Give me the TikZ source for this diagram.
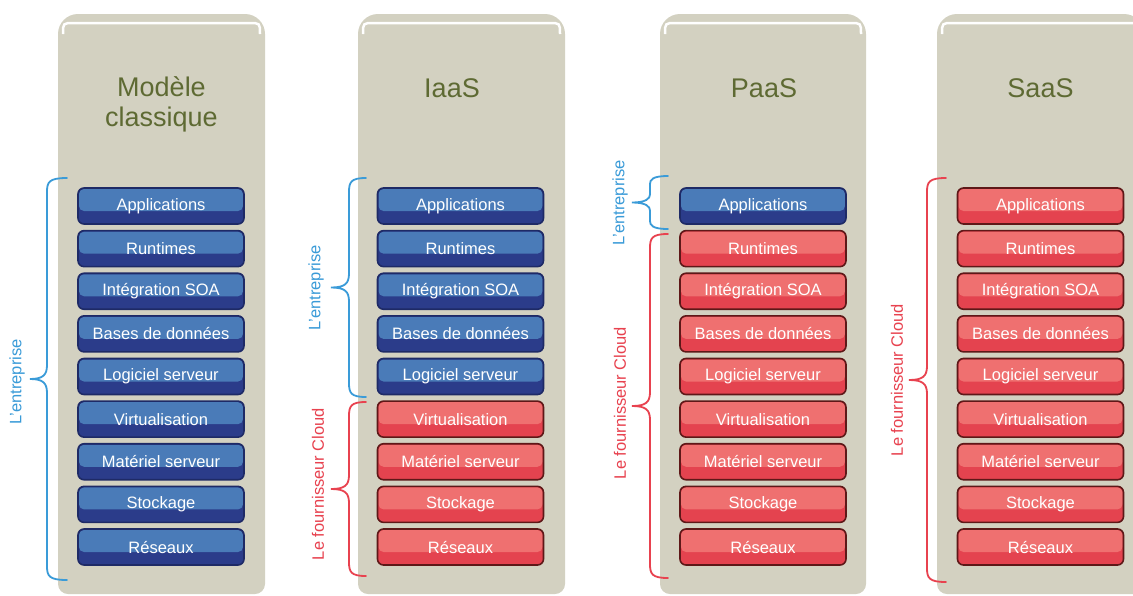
\documentclass[tikz,border=0pt]{standalone}
\usepackage{fontspec}
\setmainfont{Liberation Sans}
\usetikzlibrary{calc}
\definecolor{panel}{HTML}{D3D1C1}
\definecolor{titlecol}{HTML}{5E6A33}
\definecolor{bluelight}{HTML}{4A7BB8}
\definecolor{bluedark}{HTML}{2B3C8A}
\definecolor{blueborder}{HTML}{1E2A66}
\definecolor{redlight}{HTML}{EF7070}
\definecolor{reddark}{HTML}{E4434F}
\definecolor{redborder}{HTML}{5E1818}
\definecolor{bluebrace}{HTML}{3A9BD8}
\definecolor{redbrace}{HTML}{E8424F}
\tikzset{
  layer/.style={rounded corners=6pt, minimum width=166pt, minimum height=36pt,
    line width=1.6pt, text=white, font=\fontsize{16.5}{18}\selectfont, inner sep=0pt},
  bluelayer/.style={layer, draw=blueborder, fill=bluedark,
    path picture={\fill[bluelight, rounded corners=5pt]
      ($(path picture bounding box.north west)+(1pt,-1pt)$) rectangle
      ($(path picture bounding box.east)+(-1pt,-5pt)$);}},
  redlayer/.style={layer, draw=redborder, fill=reddark,
    path picture={\fill[redlight, rounded corners=5pt]
      ($(path picture bounding box.north west)+(1pt,-1pt)$) rectangle
      ($(path picture bounding box.east)+(-1pt,-5pt)$);}},
  titletext/.style={text=titlecol, font=\fontsize{27}{30}\selectfont, align=center},
  bracelabel/.style={rotate=90, font=\fontsize{16.5}{18}\selectfont},
  bracestroke/.style={line width=1.8pt, line cap=round},
}
% #1 colour, #2 xend, #3 xvert, #4 xtip, #5 ytop, #6 ybot, #7 radius
\newcommand\mybrace[7]{%
  \draw[bracestroke,#1] (#2,#5) .. controls (#3+2,#5) and (#3,#5+4) .. (#3,#5+#7)
    -- (#3,{(#5+#6)/2-#7}) .. controls (#3,{(#5+#6)/2-4}) and (#3-4,{(#5+#6)/2}) .. (#4,{(#5+#6)/2})
    .. controls (#3-4,{(#5+#6)/2}) and (#3,{(#5+#6)/2+4}) .. (#3,{(#5+#6)/2+#7})
    -- (#3,#6-#7) .. controls (#3,#6-4) and (#3+2,#6) .. (#2,#6);}
\newcommand\mypanel[2]{%
  \fill[panel, rounded corners=20pt] (#1,14) rectangle (#2,400);
  \fill[panel, rounded corners=10pt] (#1,200) rectangle (#2,594);
  \draw[white, line width=2.5pt] (#1+5,34) .. controls (#1+5,23) .. (#1+16,23)
    -- (#2-16,23) .. controls (#2-5,23) .. (#2-5,34);}
\begin{document}
\begin{tikzpicture}[x=1pt,y=-1pt]
\fill[white] (0,0) rectangle (1133,595);
\useasboundingbox (0,0) rectangle (1133,595);
\mypanel{58}{265}
\mypanel{358}{565}
\mypanel{660}{866}
\mypanel{937}{1144}
\node[titletext] (t1) at (161.5,104) {Modèle\\classique};
\node[titletext] (t2) at (452,88) {IaaS};
\node[titletext] (t3) at (764,88) {PaaS};
\node[titletext] (t4) at (1040.5,88) {SaaS};
\foreach \px/\nb/\p in {161/9/a, 460.5/5/b, 763/1/c, 1040.5/0/d} {
  \foreach \t [count=\i from 0] in {Applications, Runtimes, Intégration SOA,
      Bases de données, Logiciel serveur, Virtualisation, Matériel serveur,
      Stockage, Réseaux} {
    \ifnum\i<\nb \tikzset{cur/.style={bluelayer}}\else\tikzset{cur/.style={redlayer}}\fi
    \node[cur] (\p\i) at (\px,{206+42.625*\i}) {\t};
  }
}
\mybrace{bluebrace}{67}{47}{30}{178}{580}{14}
\node[bracelabel, text=bluebrace] (l1) at (17,382) {L'entreprise};
\mybrace{bluebrace}{366}{349}{331}{178}{397}{14}
\node[bracelabel, text=bluebrace] (l2) at (316,288) {L'entreprise};
\mybrace{redbrace}{366}{349}{331}{402}{576}{14}
\node[bracelabel, text=redbrace] (l3) at (318,484) {Le fournisseur Cloud};
\mybrace{bluebrace}{668}{650}{632}{176}{229}{8}
\node[bracelabel, text=bluebrace] (l4) at (620,203) {L'entreprise};
\mybrace{redbrace}{668}{650}{632}{234}{578}{14}
\node[bracelabel, text=redbrace] (l5) at (620,403) {Le fournisseur Cloud};
\mybrace{redbrace}{946}{927}{909}{178}{582}{14}
\node[bracelabel, text=redbrace] (l6) at (897,380) {Le fournisseur Cloud};
\end{tikzpicture}
\end{document}
